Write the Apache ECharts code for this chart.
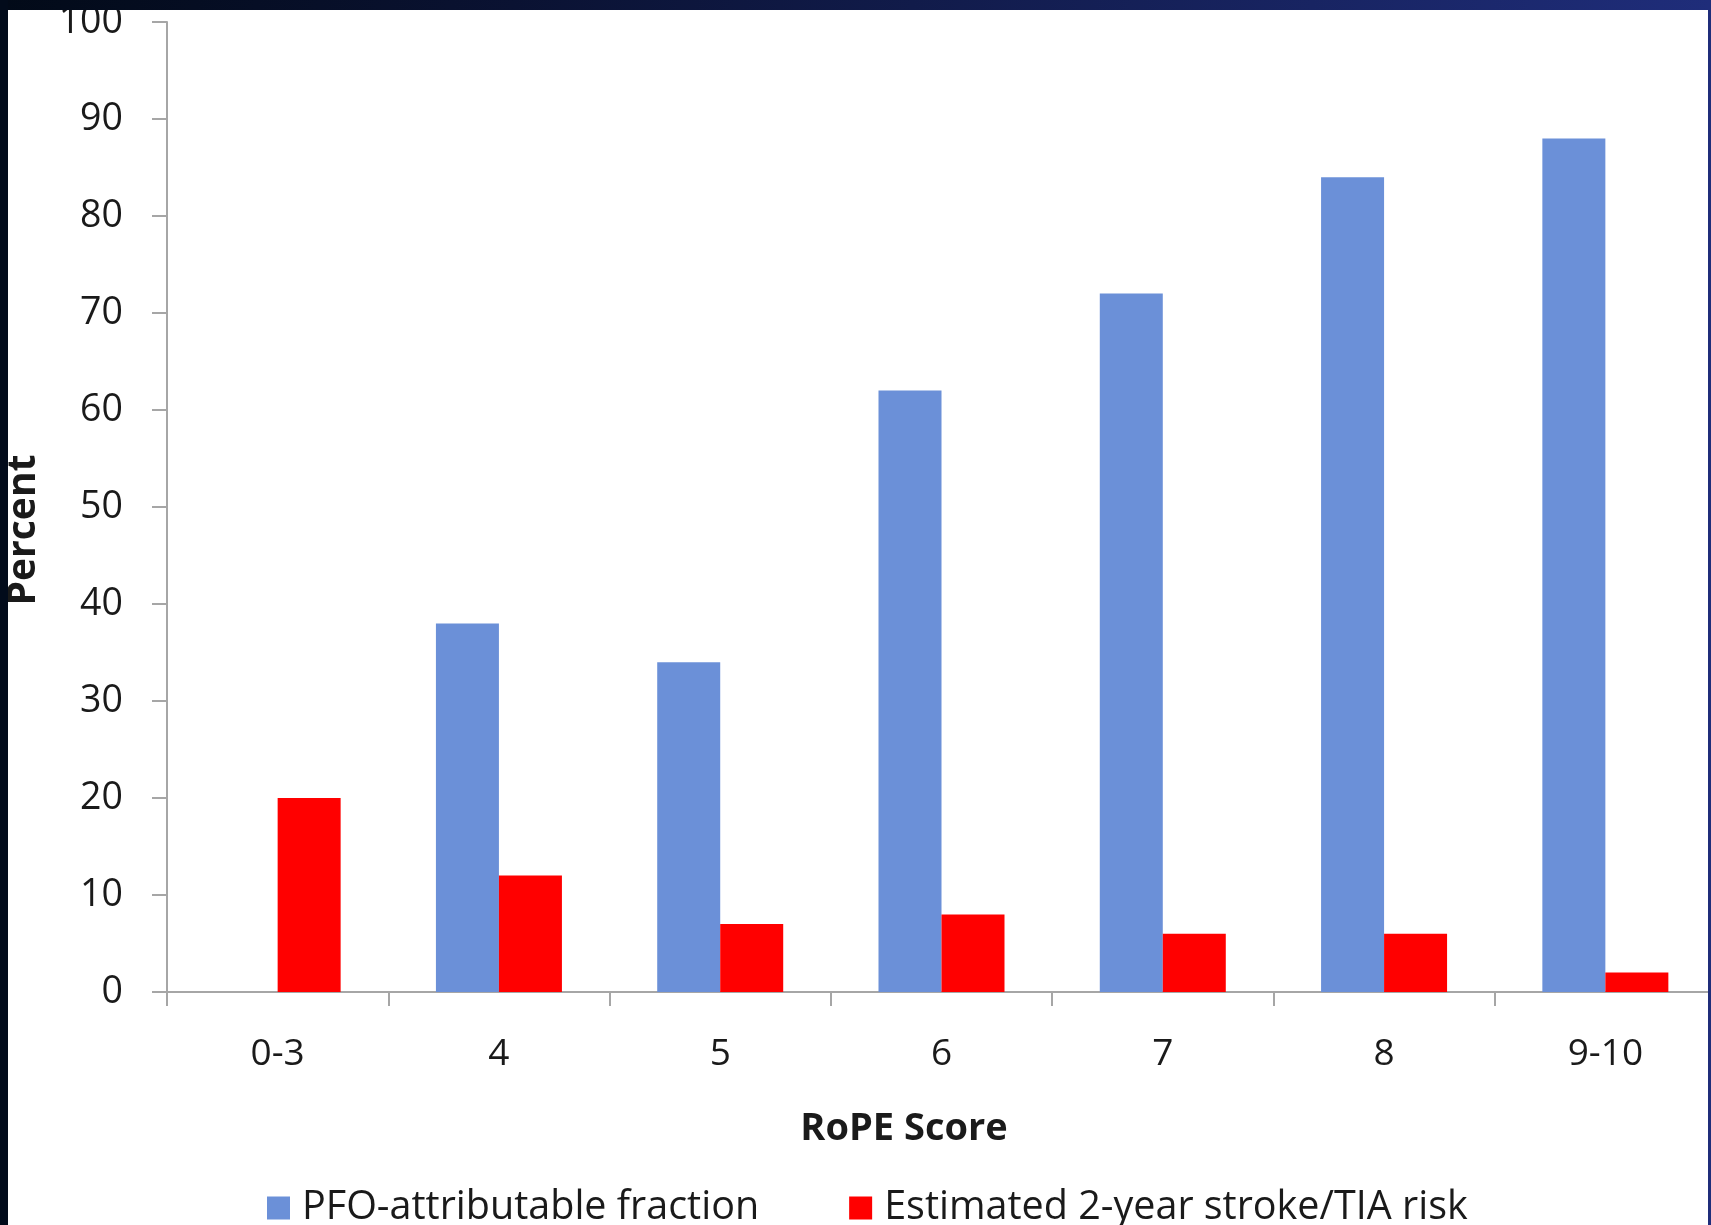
<!DOCTYPE html>
<html>
<head>
<meta charset="utf-8">
<script src="https://cdn.jsdelivr.net/npm/echarts@6/dist/echarts.min.js"></script>
<style>
html,body{margin:0;padding:0;background:#fff;}
#chart{width:1711px;height:1225px;}
</style>
</head>
<body>
<div id="chart"></div>
<script>
const categories = ['0-3', '4', '5', '6', '7', '8', '9-10'];
const pfoFraction = [null, 38, 34, 62, 72, 84, 88];
const strokeRisk = [20, 12, 7, 8, 6, 6, 2];
const yTicks = { min: 0, max: 100, interval: 10 };
const seriesNames = ['PFO-attributable fraction', 'Estimated 2-year stroke/TIA risk'];
const xTitle = 'RoPE Score';
const yTitle = 'Percent';

const chart = echarts.init(document.getElementById('chart'), null, { renderer: 'canvas' });
const labelColor = '#1a1a1a';
const axisColor = '#a6a6a6';
const font = '"Open Sans", "Noto Sans", sans-serif';

chart.setOption({
  backgroundColor: '#ffffff',
  animation: false,
  grid: { left: 167, top: 22, right: -5, bottom: 233, containLabel: false, outerBoundsMode: 'none' },
  legend: {
    left: 262, top: 1183,
    itemWidth: 23, itemHeight: 23, itemGap: 90,
    icon: 'rect',
    textStyle: { fontFamily: font, fontSize: 39.5, color: labelColor, padding: [0, 0, 0, 7] },
    data: seriesNames
  },
  xAxis: {
    type: 'category',
    data: categories,
    boundaryGap: true,
    axisLine: { lineStyle: { color: axisColor, width: 2 } },
    axisTick: { show: true, length: 14, inside: false, lineStyle: { color: axisColor, width: 2 } },
    axisLabel: { margin: 44, fontFamily: font, fontSize: 37, color: labelColor },
    splitLine: { show: false }
  },
  yAxis: {
    type: 'value',
    min: yTicks.min, max: yTicks.max, interval: yTicks.interval,
    axisLine: { show: true, lineStyle: { color: axisColor, width: 2 } },
    axisTick: { show: true, length: 15, inside: false, lineStyle: { color: axisColor, width: 2 } },
    axisLabel: { margin: 44, fontFamily: font, fontSize: 37.5, color: labelColor },
    splitLine: { show: false }
  },
  series: [
    {
      name: seriesNames[0], type: 'bar', data: pfoFraction,
      barWidth: 63, barGap: '0%',
      itemStyle: { color: '#6b90d8' }
    },
    {
      name: seriesNames[1], type: 'bar', data: strokeRisk,
      barWidth: 63, barGap: '0%',
      itemStyle: { color: '#ff0000' }
    }
  ],
  graphic: [
    { type: 'text', z: 100, x: 904, y: 1129,
      style: { text: xTitle, font: 'bold 38px ' + font, fill: labelColor, textAlign: 'center', textVerticalAlign: 'middle' } },
    { type: 'text', z: 100, x: 24, y: 530, rotation: Math.PI / 2,
      style: { text: yTitle, font: 'bold 39px ' + font, fill: labelColor, textAlign: 'center', textVerticalAlign: 'middle' } },
    { type: 'rect', z: 200, shape: { x: 0, y: 0, width: 1711, height: 10 },
      style: { fill: new echarts.graphic.LinearGradient(0, 0, 1, 0, [
        { offset: 0, color: '#020a18' }, { offset: 0.3, color: '#0a1232' }, { offset: 1, color: '#1f2d7a' }]) } },
    { type: 'rect', z: 200, shape: { x: 0, y: 0, width: 8, height: 1225 }, style: { fill: '#020b1b' } },
    { type: 'rect', z: 200, shape: { x: 1708, y: 0, width: 3, height: 1225 }, style: { fill: '#1f2d7a' } }
  ]
});
</script>
</body>
</html>
